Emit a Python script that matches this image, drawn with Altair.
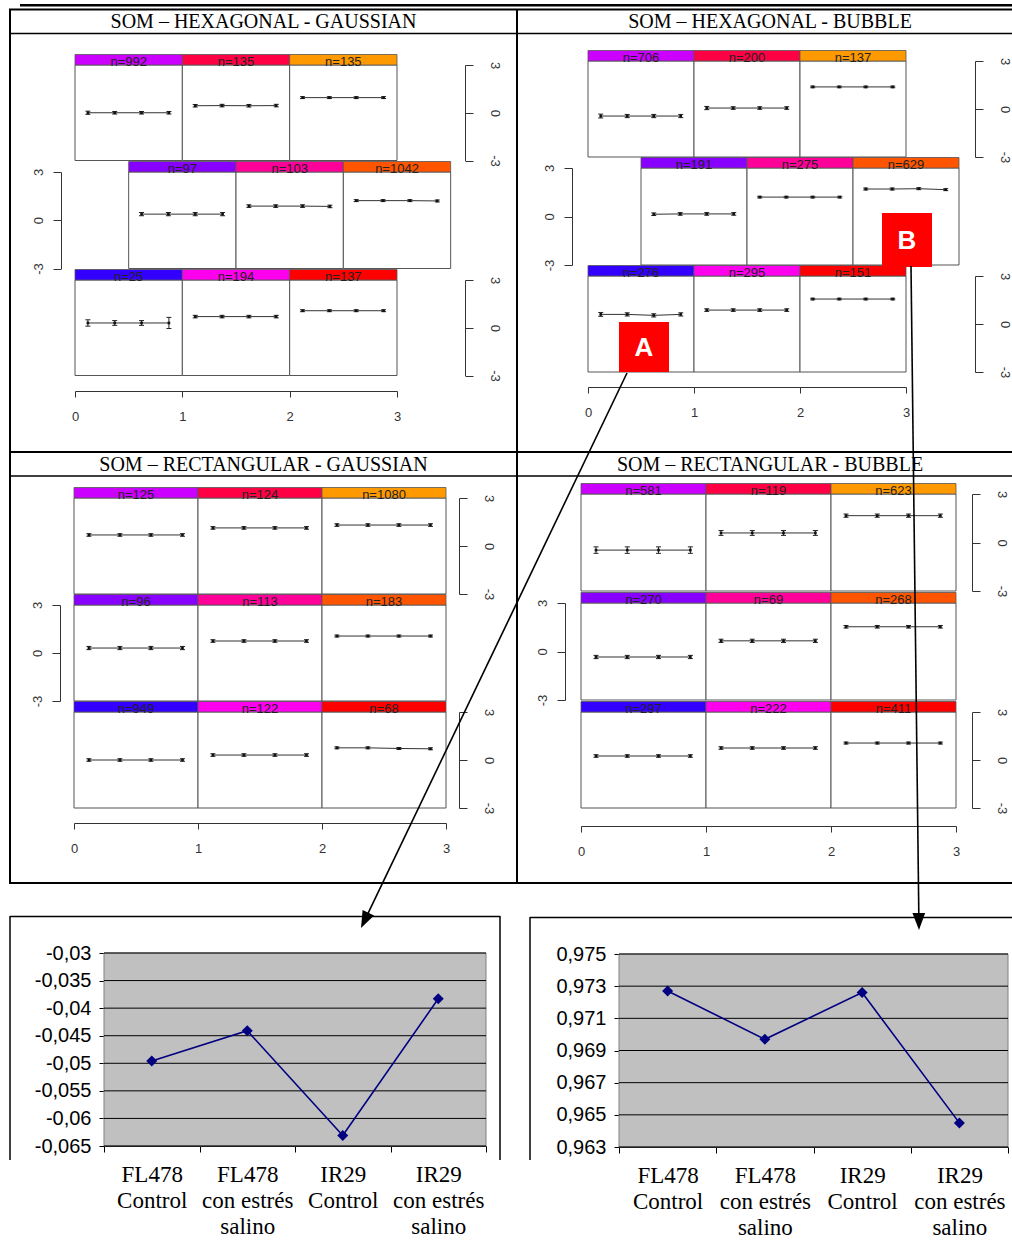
import math

import altair as alt
import pandas as pd

W, H = 1012, 1243

# ---------------------------------------------------------------- data
PANEL_TITLES = [
    "SOM – HEXAGONAL - GAUSSIAN",
    "SOM – HEXAGONAL - BUBBLE",
    "SOM – RECTANGULAR - GAUSSIAN",
    "SOM – RECTANGULAR - BUBBLE",
]

# samples per SOM unit, top row first
COUNTS = [
    [[992, 135, 135], [97, 103, 1042], [25, 194, 137]],
    [[706, 200, 137], [191, 275, 629], [276, 295, 151]],
    [[125, 124, 1080], [96, 113, 183], [949, 122, 68]],
    [[581, 119, 623], [270, 69, 268], [297, 222, 411]],
]

HEADER_COLORS = [
    ["#CC00FF", "#FF0044", "#FF9900"],
    ["#8800FF", "#FF0099", "#FF5500"],
    ["#3300FF", "#FF00EE", "#FF0000"],
]

# unit profiles: mean of the four conditions in every unit
MEANS = [
    [
        [[0.00, 0.00, 0.00, 0.00], [0.44, 0.45, 0.44, 0.45], [0.95, 0.95, 0.95, 0.95]],
        [[0.38, 0.38, 0.38, 0.38], [0.88, 0.88, 0.88, 0.86], [1.22, 1.22, 1.22, 1.20]],
        [[0.30, 0.30, 0.30, 0.30], [0.70, 0.70, 0.70, 0.70], [1.07, 1.07, 1.07, 1.07]],
    ],
    [
        [[-0.44, -0.44, -0.44, -0.44], [0.06, 0.06, 0.06, 0.06], [1.38, 1.38, 1.38, 1.38]],
        [[0.14, 0.16, 0.16, 0.16], [1.20, 1.20, 1.20, 1.20], [1.70, 1.70, 1.72, 1.66]],
        [[0.60, 0.60, 0.54, 0.60], [0.87, 0.87, 0.87, 0.87], [1.56, 1.56, 1.56, 1.56]],
    ],
    [
        [[0.69, 0.69, 0.69, 0.69], [1.13, 1.13, 1.13, 1.13], [1.31, 1.31, 1.31, 1.31]],
        [[0.31, 0.31, 0.31, 0.31], [0.75, 0.75, 0.75, 0.75], [1.06, 1.06, 1.06, 1.06]],
        [[0.00, 0.00, 0.00, 0.00], [0.31, 0.31, 0.31, 0.31], [0.76, 0.76, 0.72, 0.70]],
    ],
    [
        [[-0.47, -0.47, -0.47, -0.47], [0.59, 0.59, 0.59, 0.59], [1.66, 1.66, 1.66, 1.66]],
        [[-0.34, -0.34, -0.34, -0.34], [0.66, 0.66, 0.66, 0.66], [1.53, 1.53, 1.53, 1.53]],
        [[0.25, 0.25, 0.25, 0.25], [0.75, 0.75, 0.75, 0.75], [1.06, 1.06, 1.06, 1.06]],
    ],
]

# standard errors of the same profiles
ERRS = [
    [
        [[0.10, 0.08, 0.08, 0.08], [0.08, 0.08, 0.08, 0.08], [0.06, 0.06, 0.06, 0.06]],
        [[0.10, 0.10, 0.10, 0.10], [0.08, 0.08, 0.08, 0.08], [0.06, 0.06, 0.06, 0.06]],
        [[0.20, 0.15, 0.15, 0.35], [0.08, 0.08, 0.08, 0.08], [0.06, 0.06, 0.06, 0.06]],
    ],
    [
        [[0.12, 0.10, 0.10, 0.10], [0.10, 0.08, 0.08, 0.08], [0.05, 0.05, 0.05, 0.05]],
        [[0.08, 0.08, 0.08, 0.08], [0.05, 0.05, 0.05, 0.05], [0.06, 0.06, 0.06, 0.06]],
        [[0.12, 0.10, 0.10, 0.10], [0.08, 0.08, 0.08, 0.08], [0.05, 0.05, 0.05, 0.05]],
    ],
    [
        [[0.08, 0.08, 0.08, 0.08], [0.08, 0.08, 0.08, 0.08], [0.08, 0.08, 0.08, 0.08]],
        [[0.10, 0.10, 0.10, 0.10], [0.08, 0.08, 0.08, 0.08], [0.06, 0.06, 0.06, 0.06]],
        [[0.08, 0.08, 0.08, 0.08], [0.08, 0.08, 0.08, 0.08], [0.06, 0.06, 0.06, 0.06]],
    ],
    [
        [[0.20, 0.20, 0.20, 0.20], [0.15, 0.15, 0.15, 0.15], [0.10, 0.10, 0.10, 0.10]],
        [[0.10, 0.10, 0.10, 0.10], [0.10, 0.10, 0.10, 0.10], [0.08, 0.08, 0.08, 0.08]],
        [[0.08, 0.08, 0.08, 0.08], [0.08, 0.08, 0.08, 0.08], [0.06, 0.06, 0.06, 0.06]],
    ],
]

CONDITIONS = [
    ["FL478", "Control"],
    ["FL478", "con estrés", "salino"],
    ["IR29", "Control"],
    ["IR29", "con estrés", "salino"],
]
CLUSTER_A = [-0.0496, -0.0441, -0.0631, -0.0383]
CLUSTER_B = [0.9727, 0.9697, 0.9726, 0.9645]
TICKS_A = [-0.065, -0.06, -0.055, -0.05, -0.045, -0.04, -0.035, -0.03]
TICKS_B = [0.963, 0.965, 0.967, 0.969, 0.971, 0.973, 0.975]

# ---------------------------------------------------------------- layout
SOM_LAYOUT = [
    dict(x=(75, 397), rows=[(160.5, 65), (268.5, 172), (375.5, 280)], shift=[0, 0.5, 0],
         yaxis=[("right", 465), ("left", 61), ("right", 465)], xaxis=391),
    dict(x=(588, 906), rows=[(157, 61), (265, 168), (372, 276)], shift=[0, 0.5, 0],
         yaxis=[("right", 975), ("left", 572), ("right", 975)], xaxis=387),
    dict(x=(74, 446), rows=[(594, 498), (701, 605), (808, 712)], shift=[0, 0, 0],
         yaxis=[("right", 459), ("left", 60), ("right", 459)], xaxis=823),
    dict(x=(581, 956), rows=[(591, 494), (700, 603), (808, 712)], shift=[0, 0, 0],
         yaxis=[("right", 972), ("left", 565), ("right", 972)], xaxis=826),
]
POINT_POS = [0.12, 0.37, 0.62, 0.875]
HEADER_PX = 10.5
CAP_PX = 2.5

CHART_LAYOUT = [
    dict(x=(104, 486), y=(1146, 953)),
    dict(x=(619, 1008), y=(1147, 954)),
]

SANS = "Liberation Sans"
SERIF = "Liberation Serif"

# plain hyphen as minus sign in tick labels
INT_LABEL = "(datum.value < 0 ? '-' : '') + format(abs(datum.value), 'd')"
DEC_LABEL = ("(datum.value < 0 ? '-' : '') + "
             "replace(format(abs(datum.value), '.3~f'), '.', ',')")


def lin(domain, rng):
    return alt.Scale(domain=list(domain), range=list(rng), nice=False, zero=False)


def som_axis(**kw):
    base = dict(title=None, grid=False, domainColor="#333", domainWidth=1,
                tickColor="#333", tickWidth=1, labelColor="#333", labelFont=SANS,
                labelFontSize=13, labelFlush=False, labelOverlap=False,
                labelExpr=INT_LABEL)
    base.update(kw)
    return alt.Axis(**base)


def som_row(p, r):
    lay = SOM_LAYOUT[p]
    x0, x3 = lay["x"]
    ybot, ytop = lay["rows"][r]
    shift = lay["shift"][r]
    head = HEADER_PX / ((ybot - ytop) / 6.0)
    cap = CAP_PX / ((x3 - x0) / 3.0)

    cells = pd.DataFrame({
        "left": [shift + c for c in range(3)],
        "right": [shift + c + 1 for c in range(3)],
        "mid": [shift + c + 0.5 for c in range(3)],
        "bottom": [-3.0] * 3,
        "top": [3.0] * 3,
        "head": [3.0 + head] * 3,
        "color": HEADER_COLORS[r],
        "label": [f"n={n}" for n in COUNTS[p][r]],
    })
    recs = []
    for c in range(3):
        for j in range(4):
            m = MEANS[p][r][c][j]
            e = ERRS[p][r][c][j]
            x = shift + c + POINT_POS[j]
            recs.append(dict(cell=c, x=x, v=m, lo=m - e, hi=m + e, cl=x - cap, cr=x + cap))
    pts = pd.DataFrame(recs)

    xs = lin((0, 3), (x0, x3))
    ys = lin((-3, 3), (ybot, ytop))
    side, pos = lay["yaxis"][r]
    if side == "left":
        yaxis = som_axis(orient="left", offset=-pos, values=[-3, 0, 3], tickSize=8,
                         labelAngle=270, labelAlign="center", labelBaseline="bottom",
                         labelPadding=8)
    else:
        yaxis = som_axis(orient="right", offset=pos - W, values=[-3, 0, 3], tickSize=8,
                         labelAngle=90, labelAlign="center", labelBaseline="bottom",
                         labelPadding=14)
    xaxis = None
    if r == 2:
        xaxis = som_axis(orient="bottom", offset=lay["xaxis"] - H, values=[0, 1, 2, 3],
                         tickSize=6, labelPadding=13, labelAngle=0)

    def X(f, axis=None):
        return alt.X(f"{f}:Q", scale=xs, axis=axis)

    def Y(f, axis=None):
        return alt.Y(f"{f}:Q", scale=ys, axis=axis)

    box = alt.Chart(cells).mark_rect(fill="white", stroke="#555", strokeWidth=1).encode(
        x=X("left", xaxis), x2="right", y=Y("bottom", yaxis), y2="top")
    header = alt.Chart(cells).mark_rect(stroke="#555", strokeWidth=0.8).encode(
        x=X("left"), x2="right", y=Y("top"), y2="head",
        color=alt.Color("color:N", scale=None))
    label = alt.Chart(cells).mark_text(font=SANS, fontSize=13, color="#222",
                                       baseline="alphabetic", dy=0.5).encode(
        x=X("mid"), y=Y("top"), text="label:N")
    bars = alt.Chart(pts).mark_rule(color="#222", strokeWidth=1).encode(
        x=X("x"), y=Y("lo"), y2="hi")
    cap_lo = alt.Chart(pts).mark_rule(color="#222", strokeWidth=1).encode(
        x=X("cl"), x2="cr", y=Y("lo"))
    cap_hi = alt.Chart(pts).mark_rule(color="#222", strokeWidth=1).encode(
        x=X("cl"), x2="cr", y=Y("hi"))
    line = alt.Chart(pts).mark_line(color="#333", strokeWidth=1).encode(
        x=X("x"), y=Y("v"), detail="cell:N")
    dots = alt.Chart(pts).mark_point(shape="square", filled=True, size=7,
                                     color="#111", opacity=1).encode(x=X("x"), y=Y("v"))
    return [box, header, label, bars, cap_lo, cap_hi, line, dots]


def value_chart(k, values, ticks):
    lay = CHART_LAYOUT[k]
    xs = lin((0.5, 4.5), lay["x"])
    ys = lin((ticks[0], ticks[-1]), lay["y"])

    pts = pd.DataFrame({"pos": list(range(1, len(values) + 1)), "value": values})
    area = pd.DataFrame({"l": [0.5], "r": [len(values) + 0.5],
                         "b": [ticks[0]], "t": [ticks[-1]]})
    grid = pd.DataFrame({"tick": ticks, "l": 0.5, "r": len(values) + 0.5})

    label_expr = "''"
    for i in range(len(CONDITIONS), 0, -1):
        parts = ", ".join(f"'{s}'" for s in CONDITIONS[i - 1])
        label_expr = f"datum.value == {i} ? [{parts}] : ({label_expr})"
    xvals = [0.5 + 0.5 * i for i in range(2 * len(values) + 1)]
    xaxis = alt.Axis(orient="bottom", offset=lay["y"][0] - H, values=xvals,
                     labelExpr=label_expr, title=None, grid=False,
                     domainColor="black", domainWidth=1, tickColor="black", tickSize=6,
                     tickOpacity={"condition": {"test": "datum.value % 1 != 0", "value": 1},
                                  "value": 0},
                     labelFont=SERIF, labelFontSize=23, labelLineHeight=26,
                     labelColor="black", labelPadding=11, labelAngle=0,
                     labelFlush=False, labelOverlap=False)
    yaxis = alt.Axis(orient="left", offset=-lay["x"][0], values=ticks,
                     labelExpr=DEC_LABEL,
                     title=None, grid=False, domainColor="black", domainWidth=1,
                     tickColor="black", tickSize=5, labelFont=SANS, labelFontSize=20,
                     labelColor="black", labelPadding=8, labelFlush=False,
                     labelOverlap=False)

    bg = alt.Chart(area).mark_rect(fill="#C0C0C0", stroke="#808080", strokeWidth=1).encode(
        x=alt.X("l:Q", scale=xs, axis=xaxis), x2="r",
        y=alt.Y("b:Q", scale=ys, axis=yaxis), y2="t")
    rules = alt.Chart(grid).mark_rule(color="black", strokeWidth=1).encode(
        x=alt.X("l:Q", scale=xs, axis=None), x2="r",
        y=alt.Y("tick:Q", scale=ys, axis=None))
    line = alt.Chart(pts).mark_line(color="#000080", strokeWidth=1.6).encode(
        x=alt.X("pos:Q", scale=xs, axis=None), y=alt.Y("value:Q", scale=ys, axis=None))
    marks = alt.Chart(pts).mark_point(shape="diamond", filled=True, size=121,
                                      color="#000080", opacity=1).encode(
        x=alt.X("pos:Q", scale=xs, axis=None), y=alt.Y("value:Q", scale=ys, axis=None))
    return [bg, rules, line, marks]


# ---------------------------------------------------------------- page furniture
PX = lin((0, W), (0, W))
PY = lin((0, H), (0, H))

frame = pd.DataFrame([
    dict(x1=20, y1=5.3, x2=W, y2=5.3, w=2.5),
    dict(x1=9, y1=9.5, x2=W, y2=9.5, w=2),
    dict(x1=9, y1=33.5, x2=W, y2=33.5, w=1.5),
    dict(x1=9, y1=452, x2=W, y2=452, w=2),
    dict(x1=9, y1=476, x2=W, y2=476, w=1.5),
    dict(x1=9, y1=883, x2=W, y2=883, w=2),
    dict(x1=10, y1=9, x2=10, y2=884, w=2),
    dict(x1=517, y1=9, x2=517, y2=884, w=2),
    # borders of the two profile charts
    dict(x1=10, y1=916.5, x2=500, y2=916.5, w=1.5),
    dict(x1=10, y1=916, x2=10, y2=1160, w=1.5),
    dict(x1=500, y1=916, x2=500, y2=1160, w=1.5),
    dict(x1=530, y1=917.5, x2=W, y2=917.5, w=1.5),
    dict(x1=530, y1=917, x2=530, y2=1160, w=1.5),
])

titles = pd.DataFrame({
    "x": [263.5, 770, 263.5, 770],
    "y": [21.5, 21.5, 464.5, 464.5],
    "text": PANEL_TITLES,
})


def furniture():
    rules = alt.Chart(frame).mark_rule(color="black").encode(
        x=alt.X("x1:Q", scale=PX, axis=None), x2="x2",
        y=alt.Y("y1:Q", scale=PY, axis=None), y2="y2",
        strokeWidth=alt.StrokeWidth("w:Q", scale=None))
    text = alt.Chart(titles).mark_text(font=SERIF, fontSize=20, color="black",
                                       baseline="middle").encode(
        x=alt.X("x:Q", scale=PX, axis=None), y=alt.Y("y:Q", scale=PY, axis=None),
        text="text:N")
    return [rules, text]


# callouts: tags on two SOM units and arrows to their profiles
tags = pd.DataFrame({
    "x1": [619, 882], "x2": [669, 932], "y1": [322, 213], "y2": [372, 267],
    "cx": [644, 907], "cy": [348, 241], "tag": ["A", "B"],
})
arrow_ends = [((627, 373), (361, 928)), ((911, 266), (919, 930))]
HEAD_R = 8.5
segs, heads = [], []
for (sx, sy), (ex, ey) in arrow_ends:
    dx, dy = ex - sx, ey - sy
    n = math.hypot(dx, dy)
    ux, uy = dx / n, dy / n
    hx, hy = ex - HEAD_R * ux, ey - HEAD_R * uy
    segs.append(dict(x1=sx, y1=sy, x2=hx, y2=hy))
    heads.append(dict(x=hx, y=hy, angle=math.degrees(math.atan2(-dx, dy)) % 360))
segs = pd.DataFrame(segs)
heads = pd.DataFrame(heads)


def callouts():
    boxes = alt.Chart(tags).mark_rect(color="#FF0000").encode(
        x=alt.X("x1:Q", scale=PX, axis=None), x2="x2",
        y=alt.Y("y1:Q", scale=PY, axis=None), y2="y2")
    letters = alt.Chart(tags).mark_text(font=SANS, fontWeight="bold", fontSize=26,
                                        color="white", baseline="middle").encode(
        x=alt.X("cx:Q", scale=PX, axis=None), y=alt.Y("cy:Q", scale=PY, axis=None),
        text="tag:N")
    shafts = alt.Chart(segs).mark_rule(color="black", strokeWidth=1.6).encode(
        x=alt.X("x1:Q", scale=PX, axis=None), x2="x2",
        y=alt.Y("y1:Q", scale=PY, axis=None), y2="y2")
    tips = alt.Chart(heads).mark_point(shape="M0,1L-0.75,-1L0.75,-1Z", filled=True,
                                       size=(2 * HEAD_R) ** 2, color="black",
                                       opacity=1).encode(
        x=alt.X("x:Q", scale=PX, axis=None), y=alt.Y("y:Q", scale=PY, axis=None),
        angle=alt.Angle("angle:Q", scale=None))
    return [boxes, letters, shafts, tips]


# every unit chart sits directly in one flat layer, each with its own scales
units = furniture()
for p in range(4):
    for r in range(3):
        units += som_row(p, r)
units += value_chart(0, CLUSTER_A, TICKS_A)
units += value_chart(1, CLUSTER_B, TICKS_B)
units += callouts()

chart = (
    alt.layer(*units)
    .resolve_scale(x="independent", y="independent")
    .resolve_axis(x="independent", y="independent")
    .properties(width=W, height=H, padding=0, background="white",
                autosize=alt.AutoSizeParams(type="none"))
    .configure_view(stroke=None)
)

chart.save("out.html", embed_options={"renderer": "svg", "actions": False})
